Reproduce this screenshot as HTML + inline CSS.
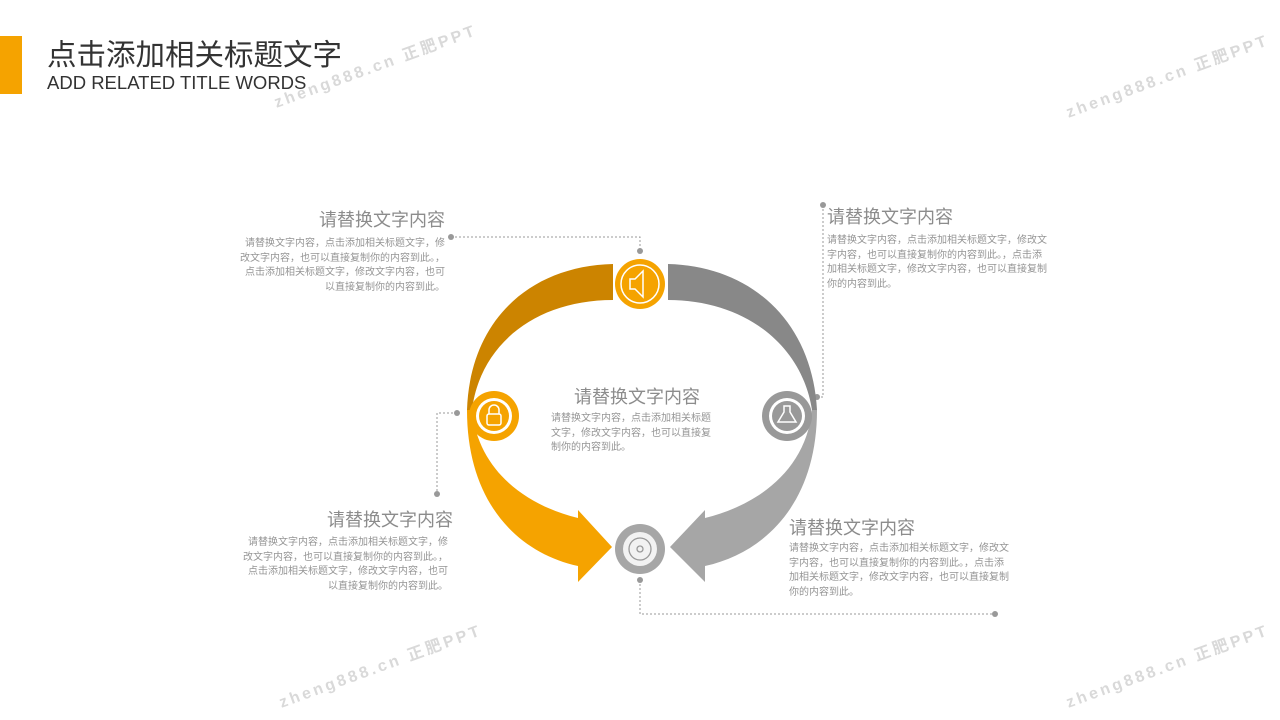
<!DOCTYPE html>
<html><head><meta charset="utf-8"><style>
body{margin:0;width:1280px;height:720px;background:#fff;position:relative;overflow:hidden;font-family:"Liberation Sans","Noto Sans CJK SC",sans-serif}
.a{position:absolute;white-space:nowrap}
.t{font-size:18px;color:#8c8c8c}
.b{font-size:10px;color:#959595;line-height:14.6px}
.r{text-align:right}
.wm{position:absolute;font-size:16px;font-weight:bold;color:#d9d9d9;letter-spacing:3px;transform:rotate(-20deg);transform-origin:left top;white-space:nowrap}
</style></head><body>
<div style="position:absolute;left:0;top:36px;width:22px;height:58px;background:#f5a300"></div>
<div class="a" style="left:47px;top:32px;font-size:29.5px;color:#333">点击添加相关标题文字</div>
<div class="a" style="left:47px;top:72px;font-size:18.5px;color:#333">ADD RELATED TITLE WORDS</div>

<div class="wm" style="left:270px;top:90px">zheng888.cn 正肥PPT</div>
<div class="wm" style="left:1062px;top:100px">zheng888.cn 正肥PPT</div>
<div class="wm" style="left:275px;top:690px">zheng888.cn 正肥PPT</div>
<div class="wm" style="left:1062px;top:690px">zheng888.cn 正肥PPT</div>

<svg class="a" style="left:0;top:0" width="1280" height="720">
<g fill="none" stroke="#999" stroke-width="1" stroke-dasharray="2,2">
<path d="M451,237 H640 V251"/>
<path d="M823,205 V397 H817"/>
<path d="M457,413 H437 V494"/>
<path d="M640,580 V614 H995"/>
</g>
<g fill="#999"><circle cx="451" cy="237" r="3"/><circle cx="640" cy="251" r="3"/><circle cx="823" cy="205" r="3"/><circle cx="817" cy="397" r="3"/><circle cx="457" cy="413" r="3"/><circle cx="437" cy="494" r="3"/><circle cx="640" cy="580" r="3"/><circle cx="995" cy="614" r="3"/></g>
<path d="M613,264 C530,266 470,320 467,410 L472,410 C480,345 535,300 613,300 Z" fill="#cc8400"/>
<path d="M467,410 C467,500 515,552 578,566 L578,582 L612,547 L578,510 L578,518 C525,505 478,470 472,410 Z" fill="#f5a300"/>
<path d="M668,264 C750,266 812,320 817,410 L812,410 C802,345 745,300 668,300 Z" fill="#888"/>
<path d="M817,410 C817,500 768,552 705,566 L705,582 L670,547 L705,510 L705,518 C758,505 806,470 812,410 Z" fill="#a6a6a6"/>
<circle cx="640" cy="284" r="25" fill="#f5a300"/><circle cx="640" cy="284" r="19" fill="none" stroke="#fff" stroke-width="1.5"/>
<path d="M630,279 h5 l8,-8 v26 l-8,-8 h-5 z" fill="none" stroke="#fff" stroke-width="1.5"/>
<circle cx="494" cy="416" r="25" fill="#f5a300"/><circle cx="494" cy="416" r="18" fill="#fff"/><circle cx="494" cy="416" r="15" fill="#f5a300"/>
<rect x="487" y="414" width="14" height="11" rx="2" fill="none" stroke="#fff" stroke-width="1.5"/><path d="M489,414 v-4 a5,5 0 0 1 10,0 v4" fill="none" stroke="#fff" stroke-width="1.5"/>
<circle cx="787" cy="416" r="25" fill="#999"/><circle cx="787" cy="416" r="18" fill="#fff"/><circle cx="787" cy="416" r="15" fill="#999"/>
<path d="M784,406 h6 v6 l6,10 h-18 l6,-10 z" fill="none" stroke="#fff" stroke-width="1.5"/>
<circle cx="640" cy="549" r="25" fill="#a6a6a6"/><circle cx="640" cy="549" r="17" fill="#f2f2f2"/><circle cx="640" cy="549" r="11" fill="none" stroke="#999" stroke-width="1.3"/><circle cx="640" cy="549" r="3" fill="none" stroke="#999" stroke-width="1.3"/>
</svg>

<div class="a t r" style="right:835px;top:206px">请替换文字内容</div>
<div class="a b r" style="right:835px;top:237px">请替换文字内容，点击添加相关标题文字，修<br>改文字内容，也可以直接复制你的内容到此。，<br>点击添加相关标题文字，修改文字内容，也可<br>以直接复制你的内容到此。</div>

<div class="a t" style="left:827px;top:203px">请替换文字内容</div>
<div class="a b" style="left:827px;top:234px">请替换文字内容，点击添加相关标题文字，修改文<br>字内容，也可以直接复制你的内容到此。，点击添<br>加相关标题文字，修改文字内容，也可以直接复制<br>你的内容到此。</div>

<div class="a t" style="left:574px;top:383px">请替换文字内容</div>
<div class="a b" style="left:551px;top:412px">请替换文字内容，点击添加相关标题<br>文字，修改文字内容，也可以直接复<br>制你的内容到此。</div>

<div class="a t r" style="right:827px;top:506px">请替换文字内容</div>
<div class="a b r" style="right:832px;top:536px">请替换文字内容，点击添加相关标题文字，修<br>改文字内容，也可以直接复制你的内容到此。，<br>点击添加相关标题文字，修改文字内容，也可<br>以直接复制你的内容到此。</div>

<div class="a t" style="left:789px;top:514px">请替换文字内容</div>
<div class="a b" style="left:789px;top:542px">请替换文字内容，点击添加相关标题文字，修改文<br>字内容，也可以直接复制你的内容到此。，点击添<br>加相关标题文字，修改文字内容，也可以直接复制<br>你的内容到此。</div>
</body></html>
